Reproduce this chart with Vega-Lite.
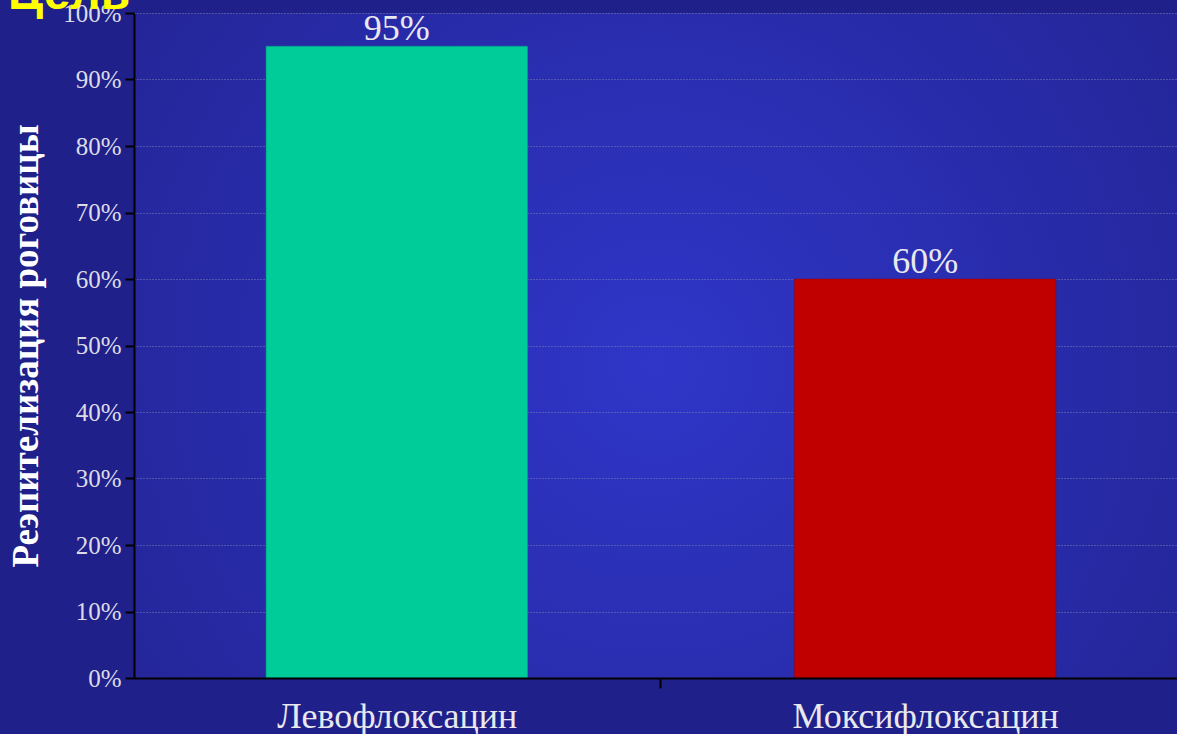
{
  "$schema": "https://vega.github.io/schema/vega-lite/v6.json",
  "autosize": {"type": "none"},
  "padding": {"left": 134, "top": 13, "right": 0, "bottom": 56},
  "width": 1043,
  "height": 665,
  "background": "#20208a",
  "title": {
    "text": "Цель",
    "anchor": "start",
    "frame": "group",
    "orient": "top",
    "dx": -126,
    "dy": 70,
    "baseline": "bottom",
    "color": "#ffff00",
    "font": "Liberation Sans",
    "fontWeight": "bold",
    "fontSize": 48
  },
  "config": {
    "view": {
      "stroke": null,
      "fill": {
        "gradient": "radial",
        "x1": 0.5, "y1": 0.52, "x2": 0.5, "y2": 0.52,
        "r1": 0, "r2": 0.75,
        "stops": [
          {"offset": 0, "color": "#2f36c8"},
          {"offset": 1, "color": "#21218c"}
        ]
      }
    }
  },
  "data": {
    "values": [
      {"drug": "Левофлоксацин", "share": 0.95},
      {"drug": "Моксифлоксацин", "share": 0.60}
    ]
  },
  "encoding": {
    "x": {
      "field": "drug",
      "type": "nominal",
      "sort": null,
      "scale": {"range": [0, 1054], "paddingInner": 0.505, "paddingOuter": 0.25},
      "axis": {
        "title": null,
        "labelAngle": 0,
        "labelLimit": 0,
        "labelFont": "Liberation Serif",
        "labelFontSize": 36,
        "labelColor": "#e8e8ee",
        "labelPadding": 11,
        "tickOffset": 263.5,
        "labelOffset": -263.5,
        "tickColor": "#000000",
        "tickWidth": 2,
        "tickSize": 10,
        "domainColor": "#000000",
        "domainWidth": 2,
        "zindex": 1
      }
    },
    "y": {
      "field": "share",
      "type": "quantitative",
      "scale": {"domain": [0, 1]},
      "axis": {
        "title": "Реэпителизация роговицы",
        "titleFont": "Liberation Serif",
        "titleFontSize": 37,
        "titleFontWeight": "bold",
        "titleColor": "#ffffff",
        "titlePadding": 17,
        "values": [0, 0.1, 0.2, 0.3, 0.4, 0.5, 0.6, 0.7, 0.8, 0.9, 1],
        "format": ".0%",
        "labelFont": "Liberation Serif",
        "labelFontSize": 25,
        "labelColor": "#dcdce6",
        "labelPadding": 4,
        "tickColor": "#000000",
        "tickWidth": 2,
        "tickSize": 9,
        "domainColor": "#000000",
        "domainWidth": 2,
        "grid": true,
        "gridColor": "#8a8ab4",
        "gridOpacity": 0.9,
        "gridDash": [1, 2],
        "gridWidth": 1
      }
    }
  },
  "layer": [
    {
      "mark": {"type": "bar", "strokeWidth": 1, "strokeOpacity": 0.5},
      "encoding": {
        "color": {
          "field": "drug",
          "type": "nominal",
          "scale": {"domain": ["Левофлоксацин", "Моксифлоксацин"], "range": ["#00cc99", "#c00000"]},
          "legend": null
        },
        "stroke": {
          "field": "drug",
          "type": "nominal",
          "scale": {"domain": ["Левофлоксацин", "Моксифлоксацин"], "range": ["#0a9f80", "#8a0010"]},
          "legend": null
        }
      }
    },
    {
      "mark": {
        "type": "text",
        "baseline": "alphabetic",
        "dy": -6,
        "font": "Liberation Serif",
        "fontSize": 36,
        "color": "#e8e8ee"
      },
      "encoding": {
        "text": {"field": "share", "type": "quantitative", "format": ".0%"}
      }
    }
  ]
}
